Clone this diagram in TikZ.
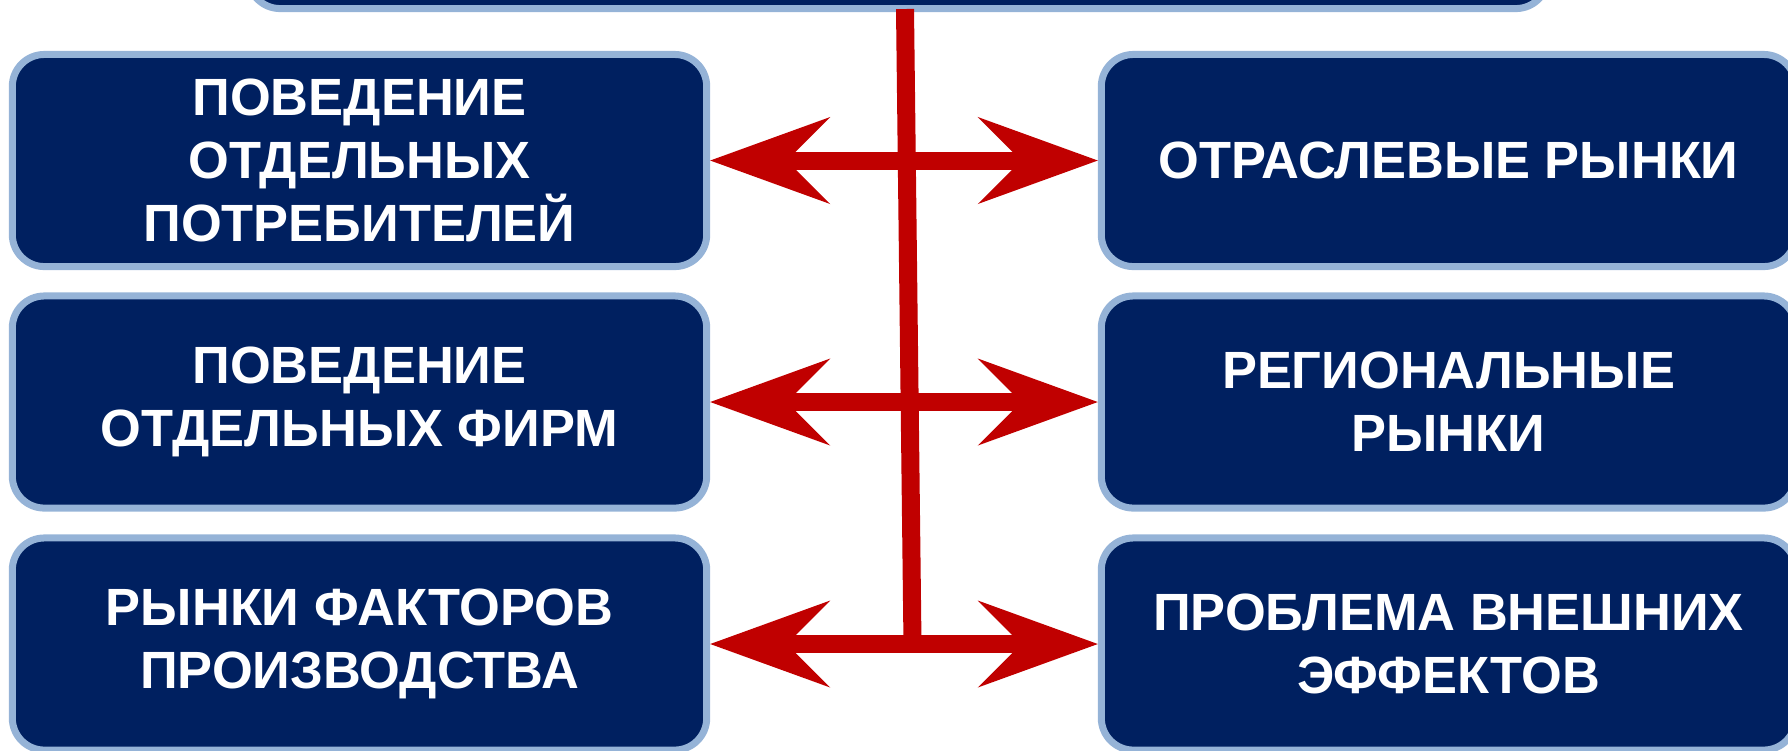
\documentclass[tikz,border=0pt]{standalone}
\usepackage{fontspec}
\setmainfont{Liberation Sans}
\usetikzlibrary{arrows.meta}
\definecolor{navy}{HTML}{002060}
\definecolor{edgeblue}{HTML}{95B3D7}
\definecolor{arrowred}{HTML}{C00000}
\begin{document}
\begin{tikzpicture}[x=0.01cm,y=-0.01cm,
  box/.style={draw=edgeblue, fill=navy, line width=0.07cm, rounded corners=0.32cm,
    minimum width=6.94cm, minimum height=2.12cm, text=white, align=center,
    font=\fontsize{14.9}{17.9}\selectfont\bfseries, inner sep=0pt},
  link/.style={draw=arrowred, line width=0.18cm},
  biarrow/.style={link, >={Stealth[length=1.2cm,width=0.87cm,inset=0.435cm,line width=0pt]}, <->}]
\useasboundingbox (0,0) rectangle (1788,750);
\clip (0,0) rectangle (1788,750);
% top box (mostly outside the picture)
\node[box, minimum width=12.99cm] (top) at (898,-97.5) {};
% left column
\node[box] (l1) at (359.5,160.5) {ПОВЕДЕНИЕ\\ОТДЕЛЬНЫХ\\ПОТРЕБИТЕЛЕЙ};
\node[box] (l2) at (359.5,402) {ПОВЕДЕНИЕ\\ОТДЕЛЬНЫХ ФИРМ};
\node[box] (l3) at (359.5,644) {РЫНКИ ФАКТОРОВ\\ПРОИЗВОДСТВА};
% right column
\node[box] (r1) at (1448.5,160.5) {ОТРАСЛЕВЫЕ РЫНКИ};
\node[box] (r2) at (1448.5,402) {РЕГИОНАЛЬНЫЕ\\РЫНКИ};
\node[box] (r3) at (1448.5,644) {ПРОБЛЕМА ВНЕШНИХ\\ЭФФЕКТОВ};
% connectors
\coordinate (vt) at (905,9);
\coordinate (vb) at (912.5,644);
\draw[link] (vt) -- (vb);
\draw[biarrow] (l1.east) -- (r1.west);
\draw[biarrow] (l2.east) -- (r2.west);
\draw[biarrow] (l3.east) -- (r3.west);
\end{tikzpicture}
\end{document}
